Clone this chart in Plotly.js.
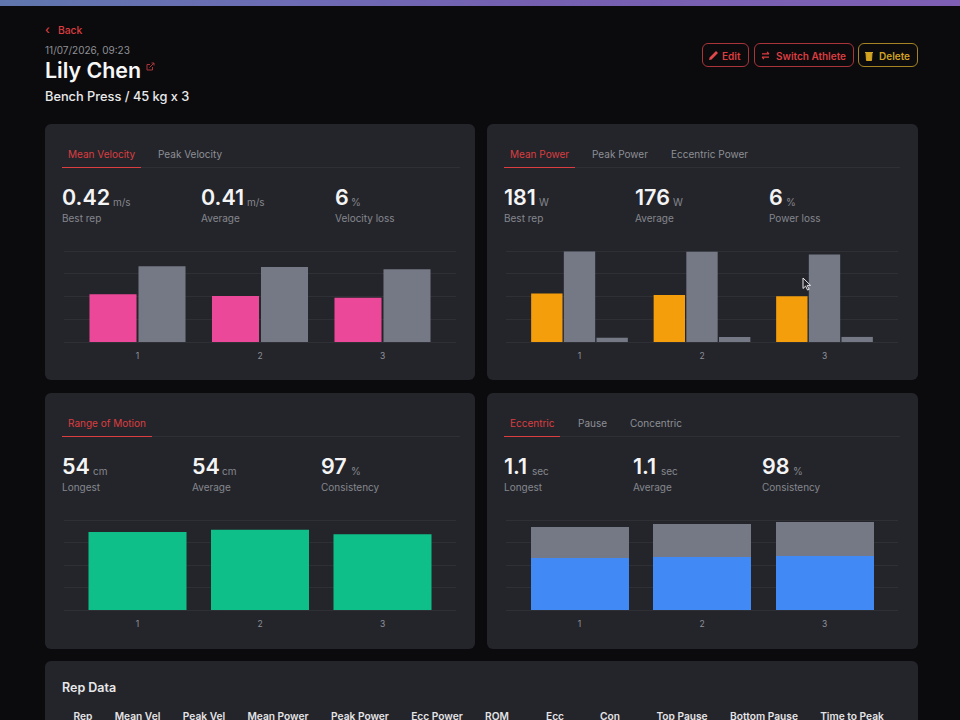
<!DOCTYPE html>
<html>
<head>
<meta charset="utf-8">
<script src="https://cdn.plot.ly/plotly-3.0.1.min.js"></script>
<style>
html,body{margin:0;padding:0;background:#0b0b0d;width:960px;height:720px;overflow:hidden;font-family:Inter,sans-serif}
#banner{position:absolute;left:0;top:0;width:960px;height:6px;background:linear-gradient(90deg,#5f76ac 0%,#6d6cb4 30%,#7560b0 55%,#7e5fb3 100%)}
.t{position:absolute;white-space:nowrap;line-height:1;transform:translateY(-50%)}
.card{position:absolute;background:#24252b;border-radius:6px}
.line{position:absolute}
.line svg{display:block}
.btn{position:absolute;box-sizing:border-box;height:24px;border:1.3px solid #a9343a;border-radius:6px}
.chart{position:absolute}
</style>
</head>
<body>
<div id="banner"></div>
<div id="page"></div>
<script>
// Rep categories
const reps = ['1','2','3'];
// Velocity (m/s)
const meanVelocity = [0.42,0.405,0.39];
const peakVelocity = [0.665,0.66,0.64];
// Power (W)
const meanPower = [181,176,171];
const peakPower = [338,337,327];
const eccentricPower = [16,19,19];
// Range of motion (cm)
const rangeOfMotion = [52,53.5,50.5];
// Phase durations (sec)
const eccentricTime = [1.04,1.07,1.09];
const concentricTime = [0.62,0.66,0.67];
// Table headers
const tableHeaders = ['Rep','Mean Vel','Peak Vel','Mean Power','Peak Power','Ecc Power','ROM','Ecc','Con','Top Pause','Bottom Pause','Time to Peak'];
const tableHeaderX = [83,137.5,204,278,360,437,497,555,610,682,764,852];

const RED='#dc3d40', GREY='#747985', MUTED='#85878d', GRID='#2f3036';
const page=document.getElementById('page');
function el(cls,css,html){const d=document.createElement('div');d.className=cls;d.style.cssText=css;if(html)d.innerHTML=html;page.appendChild(d);return d;}
function text(s,x,y,size,color,weight,center){return el('t',`left:${x}px;top:${y}px;font-size:${size}px;color:${color};font-weight:${weight||400};${center?'transform:translate(-50%,-50%);':''}`,s);}

// header
text('‹',45,29.5,12,RED,500);
text('Back',58,30,10.3,RED,500);
text('11/07/2026, 09:23',45,50,10,'#8f9096');
text('Lily Chen',45,70.5,21.4,'#f7f7f8',600);
text('Bench Press / 45 kg x 3',45,96.5,12.8,'#e9e9ea',500);
el('line','left:146px;top:62px;width:9px;height:9px',`<svg width="9" height="9" viewBox="0 0 9 9" fill="none" stroke="#a9343a" stroke-width="1"><path d="M6.5 5v3H1V2.5h3M3.5 5.5L8 1M5.5 1H8v2.5"/></svg>`);

// buttons
[[702,47,RED,'Edit',722],[754,100,RED,'Switch Athlete',776],[858,60,'#d3a322','Delete',879]].forEach(b=>{
  el('btn',`left:${b[0]}px;top:43px;width:${b[1]}px;border-color:${b[2]==RED?'#a9343a':'#a58324'}`);
  text(b[3],b[4],55.5,10,b[2],600);
});
el('line','left:708px;top:50px;width:11px;height:11px',`<svg width="11" height="11" viewBox="0 0 11 11"><path d="M1 10l.6-2.6L8 1l2 2-6.4 6.4z" fill="#e0474b"/></svg>`);
el('line','left:760px;top:50px;width:11px;height:11px',`<svg width="11" height="11" viewBox="0 0 11 11" fill="none" stroke="${RED}" stroke-width="1.2"><path d="M2 3.8h7M7 1.8l2 2M9 7.2H2M4 9.2l-2-2"/></svg>`);
el('line','left:864px;top:50px;width:10px;height:11px',`<svg width="10" height="11" viewBox="0 0 10 11"><path d="M1 2.5h8M2 3h6l-.5 7.5h-5z" fill="#d3a322" stroke="#d3a322"/></svg>`);

// panels
const panels=[
 {x:45,y:124,w:430,
  tabs:[['Mean Velocity',68,1],['Peak Velocity',158,0]],ul:[62,79],div:[62,398],
  stats:[['0.42','m/s','Best rep',62,113],['0.41','m/s','Average',201,247],['6','%','Velocity loss',335,351]],
  px:64,pw:392,plotH:91,
  traces:[[meanVelocity,'#ec4899'],[peakVelocity,GREY]],range:[0,0.8],dtick:0.2,mode:'group'},
 {x:487,y:124,w:431,
  tabs:[['Mean Power',510,1],['Peak Power',592,0],['Eccentric Power',671,0]],ul:[504,71],div:[504,396],
  stats:[['181','W','Best rep',504,539],['176','W','Average',635,673],['6','%','Power loss',769,786]],
  px:505.5,pw:392,plotH:91,
  traces:[[meanPower,'#f59e0b'],[peakPower,GREY],[eccentricPower,GREY]],range:[0,340],dtick:85,mode:'group'},
 {x:45,y:393,w:430,
  tabs:[['Range of Motion',68,1]],ul:[62,90],div:[62,398],
  stats:[['54','cm','Longest',62,93],['54','cm','Average',192,222],['97','%','Consistency',321,351]],
  px:64,pw:392,plotH:90,
  traces:[[rangeOfMotion,'#0ebf8a']],range:[0,60],dtick:15,mode:'group'},
 {x:487,y:393,w:431,
  tabs:[['Eccentric',510,1],['Pause',578,0],['Concentric',630,0]],ul:[504,56],div:[504,396],
  stats:[['1.1','sec','Longest',504,532],['1.1','sec','Average',633,661],['98','%','Consistency',762,793]],
  px:505.5,pw:392,plotH:90,
  traces:[[eccentricTime,'#4189f4'],[concentricTime,GREY]],range:[0,1.8],dtick:0.45,mode:'stack'}
];

panels.forEach((p,i)=>{
  el('card',`left:${p.x}px;top:${p.y}px;width:${p.w}px;height:256px`);
  const ty=p.y+29.5, ly=p.y+43;
  el('line',`left:${p.div[0]}px;top:${ly}px;width:${p.div[1]}px;height:1px;background:#2f3036`);
  el('line',`left:${p.ul[0]}px;top:${ly-0.5}px;width:${p.ul[1]}px;height:1.5px;background:${RED}`);
  p.tabs.forEach(t=>text(t[0],t[1],ty,10,t[2]?RED:'#8d8f95',400));
  p.stats.forEach(s=>{
    text(s[0],s[3],p.y+74,21.5,'#f4f4f5',600);
    text(s[1],s[4],p.y+78,10,MUTED,400);
    text(s[2],s[3],p.y+94,10,MUTED,400);
  });
  // Plotly drops a gridline lying on the axis end, so the plot runs 3px above the top grid value.
  const headroom=3, top=p.y+127, mt=10-headroom, mb=30, h=p.plotH+headroom;
  const d=el('chart',`left:${p.px}px;top:${top-10}px;width:${p.pw}px;height:${h+mt+mb}px`);
  const data=p.traces.map(t=>({type:'bar',x:reps,y:t[0],marker:{color:t[1],line:{width:0}},hoverinfo:'skip',showlegend:false}));
  Plotly.newPlot(d,data,{
    width:p.pw,height:h+mt+mb,
    margin:{l:0,r:0,t:mt,b:mb,pad:0},
    paper_bgcolor:'rgba(0,0,0,0)',plot_bgcolor:'rgba(0,0,0,0)',
    barmode:p.mode,bargap:0.2,bargroupgap:p.traces.length>1&&p.mode=='group'?0.04:0,
    showlegend:false,
    font:{family:'Inter, sans-serif'},
    xaxis:{type:'category',range:[-0.6,2.6],showgrid:false,zeroline:false,showline:false,ticks:'',ticklen:0,ticklabelstandoff:7,tickfont:{size:8.5,color:'#8f9197'},automargin:false},
    yaxis:{range:[p.range[0],p.range[1]*h/p.plotH],tick0:0,dtick:p.dtick,showticklabels:false,gridcolor:GRID,gridwidth:1,zeroline:true,zerolinecolor:GRID,zerolinewidth:1,showline:false,ticks:'',automargin:false}
  },{staticPlot:true,displayModeBar:false});
});

// table card
el('card','left:45px;top:661px;width:873px;height:80px');
text('Rep Data',62,688,12.5,'#e8e8ea',600);
tableHeaders.forEach((h,i)=>text(h,tableHeaderX[i],715.5,10.2,'#e4e4e6',600,true));

// mouse cursor
el('line','left:802px;top:277px;width:11px;height:15px;z-index:5',`<svg width="11" height="15" viewBox="0 0 11 15"><path d="M1 1v10.5l2.6-2.4 2 4 1.6-.8-2-3.9h3.4z" fill="#22232a" stroke="#e8e8ea" stroke-width="1"/></svg>`);
</script>
</body>
</html>
